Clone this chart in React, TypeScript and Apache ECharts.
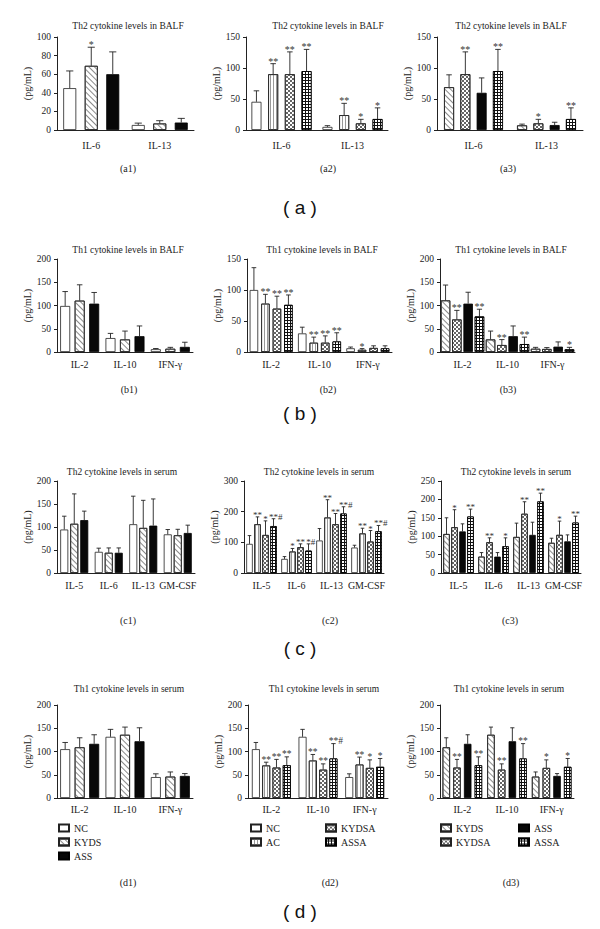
import React, { useEffect, useRef } from 'react';
import * as echarts from 'echarts';

const FONT = "'Liberation Serif', 'Times New Roman', serif";
const SANS = "'Liberation Sans', Arial, sans-serif";

const catsA = ['IL-6', 'IL-13'];
const catsB = ['IL-2', 'IL-10', 'IFN-γ'];
const catsC = ['IL-5', 'IL-6', 'IL-13', 'GM-CSF'];
const catsD = ['IL-2', 'IL-10', 'IFN-γ'];

const titleA = 'Th2 cytokine levels in BALF';
const titleB = 'Th1 cytokine levels in BALF';
const titleC = 'Th2 cytokine levels in serum';
const titleD = 'Th1 cytokine levels in serum';

const groups1 = ['NC', 'KYDS', 'ASS'];
const groups2 = ['NC', 'AC', 'KYDSA', 'ASSA'];
const groups3 = ['KYDS', 'KYDSA', 'ASS', 'ASSA'];

// ---- row a ----
const a1Values = [[45, 5.4], [69, 7], [60, 8]];
const a1Errors = [[18.5, 2], [20, 3], [24, 4.5]];
const a1Stars = [['', ''], ['*', ''], ['', '']];

const a2Values = [[45.5, 5], [90, 24], [90, 10.7], [95, 17.7]];
const a2Errors = [[17.7, 2], [17, 19], [36, 6.5], [35, 18]];
const a2Stars = [['', ''], ['**', '**'], ['**', '*'], ['**', '*']];

const a3Values = [[69, 7.5], [90, 10.7], [60, 8], [95, 17.7]];
const a3Errors = [[20, 2], [36, 6.5], [24, 4.5], [35, 18]];
const a3Stars = [['', ''], ['**', '*'], ['', ''], ['**', '**']];

// ---- row b ----
const b1Values = [[99, 30, 6], [110.5, 27, 7], [104, 34, 11]];
const b1Errors = [[31, 10, 1.5], [34, 18, 3], [24, 22, 10]];
const b1Stars = [['', '', ''], ['', '', ''], ['', '', '']];

const b2Values = [[100, 30, 6], [78, 15, 3.5], [70, 15, 6.5], [76, 17, 6]];
const b2Errors = [[36, 10, 2], [15, 9, 2], [20, 11, 3.5], [16, 14, 4]];
const b2Stars = [['', '', ''], ['**', '**', '*'], ['**', '**', ''], ['**', '**', '']];

const b3Values = [[111, 27, 7], [70, 15, 6.5], [104, 34, 11.5], [76.5, 17, 6]];
const b3Errors = [[33, 18, 3], [19.5, 11.7, 3], [24.5, 22, 10.2], [15.5, 15, 4]];
const b3Stars = [['', '', ''], ['**', '**', ''], ['', '', ''], ['**', '**', '*']];

// ---- row c ----
const c1Values = [[94.5, 46, 106, 84], [107, 44, 98, 82], [115, 44, 103, 87]];
const c1Errors = [[29, 8, 61, 10.5], [65, 10.5, 60, 13], [19.5, 10.5, 58, 17]];
const c1Stars = [['', '', '', ''], ['', '', '', ''], ['', '', '', '']];

const c2Values = [[95, 46, 106, 83], [159, 70, 181, 129], [124, 84, 159, 102.5], [153, 73, 194, 136]];
const c2Errors = [[27, 7.5, 39, 7.5], [24, 10, 58, 17], [46, 11, 35, 36], [24, 22, 22, 19]];
const c2Stars = [['', '', '', ''], ['**', '*', '**', '**'], ['*', '**', '**', '*'], ['**#', '*#', '**#', '**#']];

const c3Values = [[106, 44.5, 98, 82], [124.5, 83.6, 161, 103.6], [113, 44.5, 103.6, 86], [153.6, 72.7, 194.5, 137]];
const c3Errors = [[44, 11, 37.5, 12.5], [47.5, 12, 32.6, 37.4], [20.6, 11, 34.4, 17.6], [20, 22.8, 22.5, 17.5]];
const c3Stars = [['', '', '', ''], ['*', '**', '**', '*'], ['', '', '', ''], ['**', '*', '**', '**']];

// ---- row d ----
const d1Values = [[105, 131.6, 45], [109, 136, 46], [116.5, 122, 47.5]];
const d1Errors = [[14.4, 16, 7], [20.5, 16.5, 10], [19.5, 29, 5]];
const d1Stars = [['', '', ''], ['', '', ''], ['', '', '']];

const d2Values = [[105, 131.6, 45], [70, 80.6, 72], [65.5, 61, 64.7], [70.5, 85, 67]];
const d2Errors = [[14.4, 16, 7], [7, 13, 16], [17.5, 12.4, 17.3], [18, 32, 18]];
const d2Stars = [['', '', ''], ['**', '**', '**'], ['**', '**', '*'], ['**', '**#', '*']];

const d3Values = [[109, 136, 46], [65.5, 61, 64.7], [116.5, 122, 47.5], [70.5, 85, 67]];
const d3Errors = [[20.5, 16.5, 10], [17.5, 12.4, 17.3], [19.5, 29, 5], [18, 32, 18]];
const d3Stars = [['', '', ''], ['**', '**', '*'], ['', '', ''], ['**', '**', '*']];

const STYLE: Record<string, any> = {
  NC: { color: '#ffffff', borderColor: '#222', borderWidth: 0.8 },
  KYDS: {
    color: '#ffffff', borderColor: '#222', borderWidth: 0.8,
    decal: { symbol: 'rect', symbolSize: 1, color: '#8a8a8a', dashArrayX: [1, 0], dashArrayY: [1, 2.5], rotation: Math.PI / 4 },
  },
  ASS: { color: '#080808', borderColor: '#000', borderWidth: 0.8 },
  AC: {
    color: '#ffffff', borderColor: '#222', borderWidth: 0.8,
    decal: { symbol: 'rect', symbolSize: 1, color: '#999', dashArrayX: [1, 1.5], dashArrayY: [1, 0] },
  },
  KYDSA: {
    color: '#ffffff', borderColor: '#222', borderWidth: 0.8,
    decal: { symbol: 'rect', symbolSize: 1, color: '#666', dashArrayX: [[1.5, 1.5], [0, 1.5, 1.5, 0]], dashArrayY: [1.5, 0] },
  },
  ASSA: {
    color: '#111111', borderColor: '#000', borderWidth: 0.8,
    decal: { symbol: 'rect', symbolSize: 1, color: '#ffffff', dashArrayX: [2, 1], dashArrayY: [2, 1] },
  },
};

const rowA = { top: 37, bottom: 130, titleY: 26, subY: 168, xm: 10, starSize: 10 };
const rowB = { top: 259, bottom: 352, titleY: 250, subY: 389, xm: 7, starSize: 10 };
const rowC = { top: 481, bottom: 573, titleY: 472, subY: 620, xm: 7, starSize: 9 };
const rowD = { top: 705, bottom: 798, titleY: 689, subY: 882, xm: 6, starSize: 9.5 };

const panels = [
  { id: 'a1', row: rowA, cats: catsA, groups: groups1, values: a1Values, errors: a1Errors, stars: a1Stars, max: 100, interval: 20, left: 57, right: 194, barW: 13, step: 21.5, title: titleA, tx: 128, lx: 128 },
  { id: 'a2', row: rowA, cats: catsA, groups: groups2, values: a2Values, errors: a2Errors, stars: a2Stars, max: 150, interval: 50, left: 246, right: 388, barW: 10, step: 16.7, title: titleA, tx: 328, lx: 328 },
  { id: 'a3', row: rowA, cats: catsA, groups: groups3, values: a3Values, errors: a3Errors, stars: a3Stars, max: 150, interval: 50, left: 437, right: 583, barW: 10, step: 16.3, title: titleA, tx: 511, lx: 508 },
  { id: 'b1', row: rowB, cats: catsB, groups: groups1, values: b1Values, errors: b1Errors, stars: b1Stars, max: 200, interval: 50, left: 57, right: 193, barW: 10, step: 14.5, title: titleB, tx: 128, lx: 129 },
  { id: 'b2', row: rowB, cats: catsB, groups: groups2, values: b2Values, errors: b2Errors, stars: b2Stars, max: 150, interval: 50, left: 247, right: 392, barW: 8.5, step: 11.5, title: titleB, tx: 322, lx: 328 },
  { id: 'b3', row: rowB, cats: catsB, groups: groups3, values: b3Values, errors: b3Errors, stars: b3Stars, max: 200, interval: 50, left: 440, right: 575, barW: 9.5, step: 11.3, title: titleB, tx: 511, lx: 508 },
  { id: 'c1', row: rowC, cats: catsC, groups: groups1, values: c1Values, errors: c1Errors, stars: c1Stars, max: 200, interval: 50, left: 57, right: 195, barW: 8, step: 10, title: titleC, tx: 122, lx: 128 },
  { id: 'c2', row: rowC, cats: catsC, groups: groups2, values: c2Values, errors: c2Errors, stars: c2Stars, max: 300, interval: 100, left: 244, right: 384, barW: 6.5, step: 8, title: titleC, tx: 319, lx: 330 },
  { id: 'c3', row: rowC, cats: catsC, groups: groups3, values: c3Values, errors: c3Errors, stars: c3Stars, max: 250, interval: 50, left: 441, right: 581, barW: 6.5, step: 8, title: titleC, tx: 516, lx: 510 },
  { id: 'd1', row: rowD, cats: catsD, groups: groups1, values: d1Values, errors: d1Errors, stars: d1Stars, max: 200, interval: 50, left: 57, right: 193, barW: 10, step: 14.5, title: titleD, tx: 129, lx: 128 },
  { id: 'd2', row: rowD, cats: catsD, groups: groups2, values: d2Values, errors: d2Errors, stars: d2Stars, max: 200, interval: 50, left: 248, right: 388, barW: 8, step: 10.3, title: titleD, tx: 324, lx: 330 },
  { id: 'd3', row: rowD, cats: catsD, groups: groups3, values: d3Values, errors: d3Errors, stars: d3Stars, max: 200, interval: 50, left: 440, right: 574, barW: 7.5, step: 10.7, title: titleD, tx: 509, lx: 511 },
];

const bigLabels = [
  { text: '( a )', y: 207 },
  { text: '( b )', y: 413 },
  { text: '( c )', y: 648 },
  { text: '( d )', y: 911 },
];

function buildOption() {
  const grid: any[] = [];
  const xAxis: any[] = [];
  const yAxis: any[] = [];
  const series: any[] = [];
  const graphic: any[] = [];

  panels.forEach((p, i) => {
    const r = p.row;
    grid.push({ left: p.left, top: r.top, width: p.right - p.left, height: r.bottom - r.top, containLabel: false });
    xAxis.push({
      type: 'category', gridIndex: i, data: p.cats,
      axisLine: { lineStyle: { color: '#222', width: 1 } },
      axisTick: { show: false },
      axisLabel: { fontFamily: FONT, fontSize: 10, color: '#222', margin: r.xm, interval: 0 },
      splitLine: { show: false },
    });
    yAxis.push({
      type: 'value', gridIndex: i, min: 0, max: p.max, interval: p.interval,
      name: '(pg/mL)', nameLocation: 'middle', nameGap: 25, nameRotate: 90,
      nameTextStyle: { fontFamily: FONT, fontSize: 10, color: '#222' },
      axisLine: { show: true, lineStyle: { color: '#222', width: 1 } },
      axisTick: { show: true, length: 3, lineStyle: { color: '#222' } },
      axisLabel: { fontFamily: FONT, fontSize: 9.5, color: '#222', margin: 6 },
      splitLine: { show: false },
    });
    const gap = ((p.step - p.barW) / p.barW) * 100 + '%';
    p.groups.forEach((g, gi) => {
      series.push({
        type: 'bar', name: g, xAxisIndex: i, yAxisIndex: i,
        data: p.values[gi], barWidth: p.barW, barGap: gap,
        itemStyle: STYLE[g], silent: true, emphasis: { disabled: true },
      });
    });
    const n = p.groups.length;
    const items: any[] = [];
    p.groups.forEach((g, gi) => {
      p.cats.forEach((c, ci) => {
        items.push({ ci, gi, v: p.values[gi][ci], e: p.errors[gi][ci], s: p.stars[gi][ci] });
      });
    });
    series.push({
      type: 'custom', xAxisIndex: i, yAxisIndex: i, silent: true, clip: false, z: 5,
      data: items.map((it) => [it.ci, it.v + it.e]),
      encode: { x: 0, y: 1 },
      renderItem: (params: any, api: any) => {
        const it = items[params.dataIndex];
        const base = api.coord([it.ci, it.v]);
        const top = api.coord([it.ci, it.v + it.e]);
        const x = base[0] + (it.gi - (n - 1) / 2) * p.step;
        const cw = Math.max(3, p.barW * 0.55);
        const children: any[] = [
          { type: 'line', shape: { x1: x, y1: base[1], x2: x, y2: top[1] }, style: { stroke: '#222', lineWidth: 0.9 } },
          { type: 'line', shape: { x1: x - cw / 2, y1: top[1], x2: x + cw / 2, y2: top[1] }, style: { stroke: '#222', lineWidth: 0.9 } },
        ];
        if (it.s) {
          const k = it.s.replace('#', '').length;
          const hasHash = it.s.indexOf('#') >= 0;
          const startX = x - k * 0.25 * r.starSize;
          children.push({
            type: 'text',
            style: {
              text: it.s, x: hasHash ? startX : x, y: top[1] + 2.5,
              textAlign: hasHash ? 'left' : 'center', textVerticalAlign: 'bottom',
              fontFamily: FONT, fontSize: r.starSize, fill: '#333',
            },
          });
        }
        return { type: 'group', children };
      },
    });

    graphic.push({
      type: 'text', x: p.tx, y: r.titleY,
      style: { text: p.title, textAlign: 'center', textVerticalAlign: 'middle', fontFamily: FONT, fontSize: 9.5, fill: '#222' },
    });
    graphic.push({
      type: 'text', x: p.lx, y: r.subY,
      style: { text: '(' + p.id + ')', textAlign: 'center', textVerticalAlign: 'middle', fontFamily: FONT, fontSize: 10, fill: '#222' },
    });
  });

  bigLabels.forEach((b) => {
    graphic.push({
      type: 'text', x: 300, y: b.y,
      style: { text: b.text, textAlign: 'center', textVerticalAlign: 'middle', fontFamily: SANS, fontSize: 19, fill: '#111' },
    });
  });

  const legendBase = {
    orient: 'vertical', itemWidth: 10, itemHeight: 7, itemGap: 4, padding: 0, icon: 'rect',
    selectedMode: false,
    textStyle: { fontFamily: FONT, fontSize: 10, color: '#222', lineHeight: 10 },
  };
  const legend = [
    { ...legendBase, left: 58, top: 823, data: ['NC', 'KYDS', 'ASS'] },
    { ...legendBase, left: 250, top: 823, data: ['NC', 'AC'] },
    { ...legendBase, left: 325, top: 823, data: ['KYDSA', 'ASSA'] },
    { ...legendBase, left: 440, top: 823, data: ['KYDS', 'KYDSA'] },
    { ...legendBase, left: 518, top: 823, data: ['ASS', 'ASSA'] },
  ];

  return {
    animation: false,
    backgroundColor: '#ffffff',
    grid, xAxis, yAxis, series, graphic, legend,
  };
}

export default function App() {
  const ref = useRef<HTMLDivElement>(null);
  useEffect(() => {
    if (!ref.current) return;
    const chart = echarts.init(ref.current, undefined, { renderer: 'svg' });
    chart.setOption(buildOption() as any);
    return () => chart.dispose();
  }, []);
  return (
    <div
      ref={ref}
      style={{ position: 'absolute', left: 0, top: 0, width: 600, height: 929, background: '#fff' }}
    />
  );
}
